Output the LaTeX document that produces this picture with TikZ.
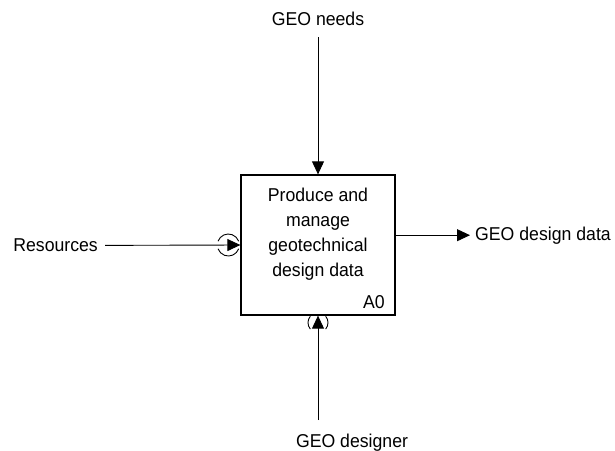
\documentclass[tikz,border=0pt]{standalone}
\usepackage{fontspec}
\setmainfont{Liberation Sans}[FakeStretch=0.95]
\usetikzlibrary{arrows.meta}

\begin{document}
\begin{tikzpicture}[x=1pt,y=-1pt,
    >={Triangle[length=13pt,width=12pt]},
    flow/.style={draw, line width=0.9pt},
    txt/.style={font=\fontsize{18.6}{25}\selectfont, inner sep=0pt},
    activity/.style={draw, line width=1.3pt, minimum width=154pt, minimum height=140pt, inner sep=0pt}]
    \useasboundingbox (0,0) rectangle (615,450);

    % activity box
    \node[activity] (a0) at (318,245) {};
    \node[txt, align=center] (a0text) at (318,234) {Produce and\\manage\\geotechnical\\design data};
    \node[txt, anchor=base east] (a0num) at (385,308) {A0};

    % arrow labels
    \node[txt, anchor=base] (needs) at (318,25.7) {GEO needs};
    \node[txt, anchor=base east] (res) at (98,251.7) {Resources};
    \node[txt, anchor=base west] (out) at (475,240) {GEO design data};
    \node[txt, anchor=base] (designer) at (352,447) {GEO designer};
    \coordinate (needsin) at (318,37);
    \coordinate (designerin) at (318,420);

    % control, input, output, mechanism
    \draw[flow,->] (needsin) -- (a0.north);
    \draw[flow,->,shorten <=7pt] (res.east) -- (a0.west);
    \draw[flow,->,shorten >=5pt] (a0.east |- out.west) -- (out.west);
    \draw[flow,->] (designerin) -- (a0.south);

    % tunnels
    \coordinate (tunnelres) at ([xshift=-12pt]a0.west);
    \coordinate (tunneldes) at ([yshift=-7pt]a0.south);
    \draw[flow] (tunnelres) ++(20:11) arc[start angle=20, end angle=160, radius=11];
    \draw[flow] (tunnelres) ++(200:11) arc[start angle=200, end angle=340, radius=11];
    \draw[flow] (tunneldes) ++(140:10) arc[start angle=140, end angle=220, radius=10];
    \draw[flow] (tunneldes) ++(-40:10) arc[start angle=-40, end angle=40, radius=10];
\end{tikzpicture}
\end{document}
